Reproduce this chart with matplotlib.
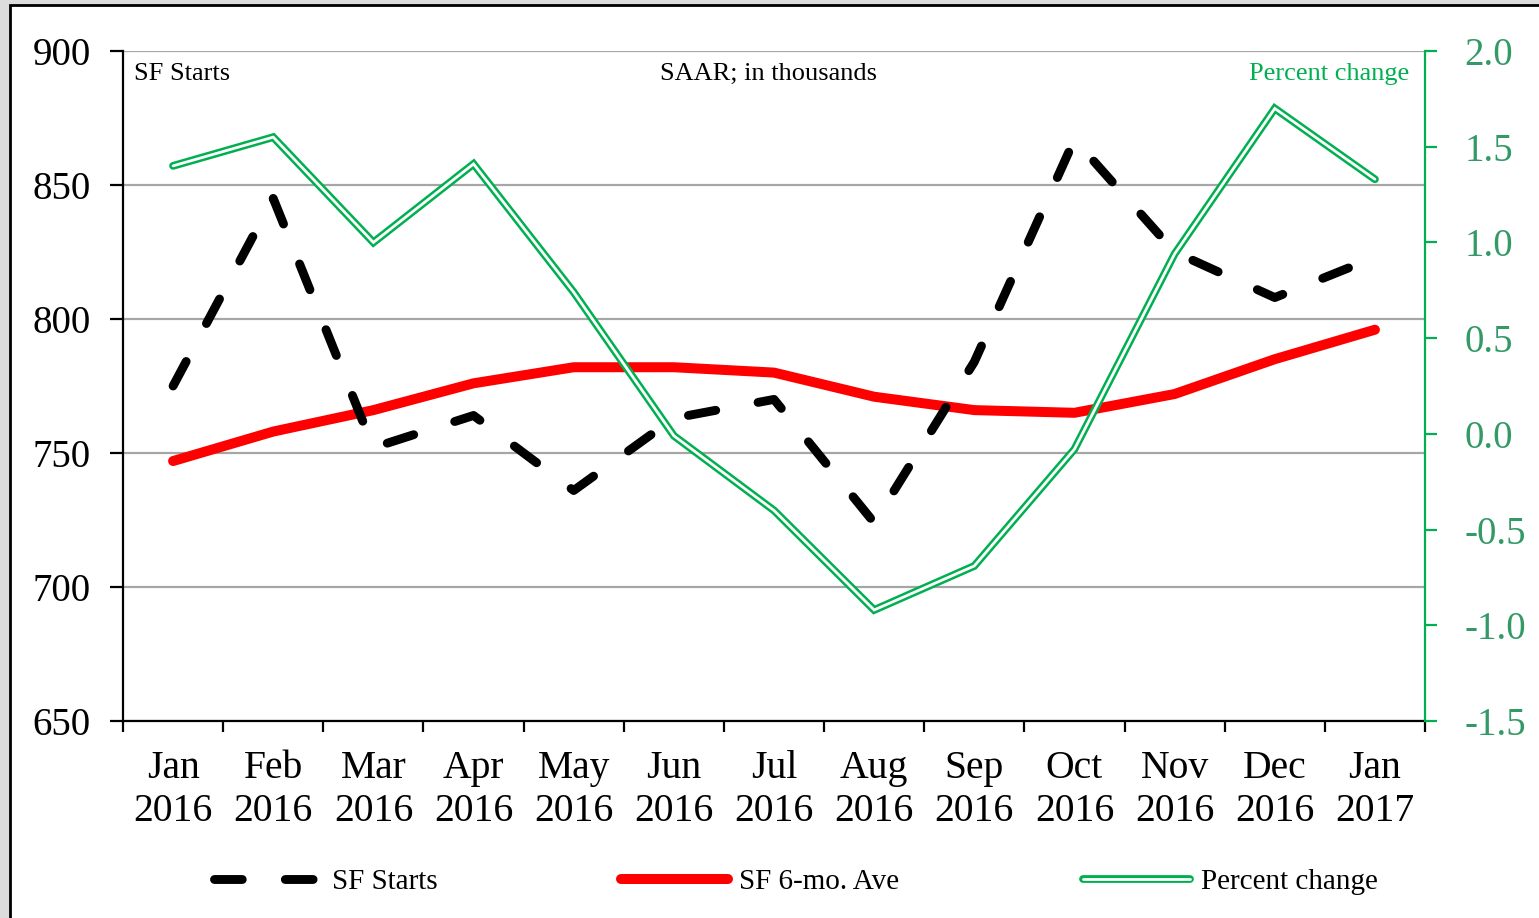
import matplotlib
matplotlib.use("Agg")
import matplotlib.pyplot as plt
from matplotlib.patches import Rectangle
from matplotlib.ticker import FixedLocator, FormatStrFormatter

plt.rcParams['font.family'] = ['Liberation Serif', 'DejaVu Serif']
plt.rcParams['axes.unicode_minus'] = False
plt.rcParams['lines.scale_dashes'] = False

# data
months = ['Jan\n2016', 'Feb\n2016', 'Mar\n2016', 'Apr\n2016', 'May\n2016', 'Jun\n2016',
          'Jul\n2016', 'Aug\n2016', 'Sep\n2016', 'Oct\n2016', 'Nov\n2016', 'Dec\n2016',
          'Jan\n2017']
sf_starts = [775, 845, 752, 764, 736, 763, 770, 724, 784, 867, 825, 808, 823]
sf_6mo_ave = [747, 758, 766, 776, 782, 782, 780, 771, 766, 765, 772, 785, 796]
pct_change = [1.40, 1.55, 1.00, 1.41, 0.74, -0.01, -0.40, -0.92, -0.69, -0.08, 0.94, 1.70, 1.33]

left_ticks = [650, 700, 750, 800, 850, 900]
right_ticks = [-1.5, -1.0, -0.5, 0.0, 0.5, 1.0, 1.5, 2.0]

GREEN = '#00B050'
GREEN_TXT = '#339966'
x = list(range(len(months)))

fig = plt.figure(figsize=(15.39, 9.18), dpi=100, facecolor='#DCDCDC')
# white panel with black frame, behind everything
fig.patches.append(Rectangle((10 / 1539, -0.05), 1.1, 1 - 5 / 918 + 0.05,
                             transform=fig.transFigure, facecolor='white',
                             edgecolor='black', linewidth=2, zorder=-10))

ax = fig.add_axes([123 / 1539, 1 - 721 / 918, 1302 / 1539, 670 / 918])
ax.set_facecolor('none')

red, = ax.plot(x, sf_6mo_ave, color='#FF0000', lw=7.2, solid_joinstyle='round',
               solid_capstyle='round', zorder=3, label='SF 6-mo. Ave')
black, = ax.plot(x, sf_starts, color='black', lw=6.4, linestyle=(0, (20, 31)),
                 dash_capstyle='round', dash_joinstyle='round', zorder=4,
                 label='SF Starts')

ax.set_xlim(-0.5, len(months) - 0.5)
ax.set_ylim(650, 900)
ax.yaxis.set_major_locator(FixedLocator(left_ticks))
ax.grid(axis='y', color='#A6A6A6', lw=1.6, zorder=1)
ax.set_axisbelow(True)

ax.set_xticks([i - 0.5 for i in range(len(months) + 1)])
ax.set_xticklabels([])
ax.set_xticks(x, minor=True)
ax.set_xticklabels(months, minor=True, fontsize=28.5, linespacing=1.22)
ax.tick_params(axis='x', which='major', direction='out', length=8, width=1.6)
ax.tick_params(axis='x', which='minor', length=0, pad=21)
ax.tick_params(axis='y', direction='out', length=9.4, width=1.6, pad=14, labelsize=28)

for s in ['top', 'right']:
    ax.spines[s].set_visible(False)
for s in ['left', 'bottom']:
    ax.spines[s].set_linewidth(1.6)

ax2 = ax.twinx()
ax2.set_ylim(-1.5, 2.0)
ax2.yaxis.set_major_locator(FixedLocator(right_ticks))
ax2.yaxis.set_major_formatter(FormatStrFormatter('%.1f'))
ax2.tick_params(axis='y', direction='out', length=8.6, width=1.6, pad=20,
                labelsize=28, colors=GREEN, labelcolor=GREEN_TXT)
for s in ['top', 'left', 'bottom']:
    ax2.spines[s].set_visible(False)
ax2.spines['right'].set_color(GREEN)
ax2.spines['right'].set_linewidth(1.6)

g_outer, = ax2.plot(x, pct_change, color=GREEN, lw=5.6, solid_joinstyle='miter',
                    solid_capstyle='round', zorder=5)
g_inner, = ax2.plot(x, pct_change, color='white', lw=2.0, solid_joinstyle='miter',
                    solid_capstyle='round', zorder=6)

ax.text(0.0085, 0.965, 'SF Starts', transform=ax.transAxes, fontsize=19,
        ha='left', va='center')
ax.text(0.496, 0.965, 'SAAR; in thousands', transform=ax.transAxes, fontsize=19,
        ha='center', va='center')
ax.text(0.9877, 0.965, 'Percent change', transform=ax.transAxes, fontsize=19,
        ha='right', va='center', color=GREEN)

fig.legend([black, red, (g_outer, g_inner)],
           ['SF Starts', 'SF 6-mo. Ave', 'Percent change'],
           loc='center', bbox_to_anchor=(796 / 1539, 1 - 882 / 918), ncol=3,
           frameon=False, fontsize=21, handlelength=3.65, handletextpad=0.4,
           columnspacing=6.3)

fig.savefig('out.png', dpi=100, facecolor=fig.get_facecolor())
